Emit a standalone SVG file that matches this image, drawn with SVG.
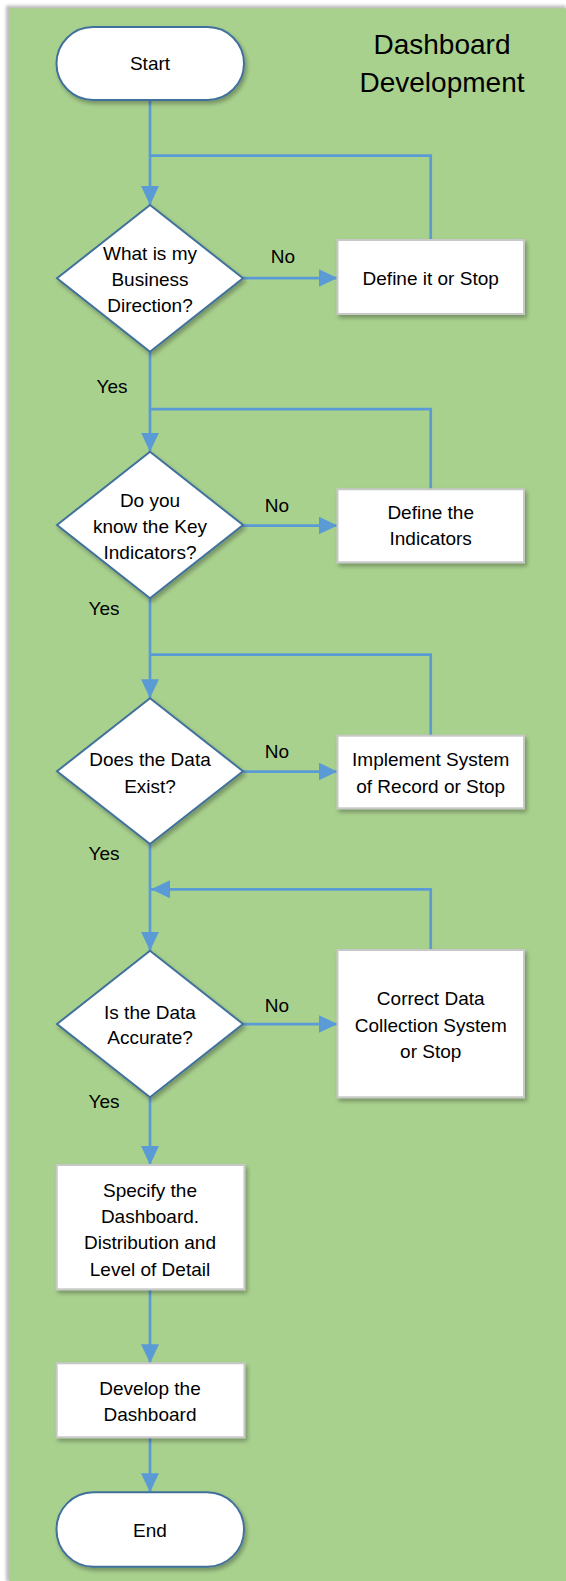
<svg xmlns="http://www.w3.org/2000/svg" width="566" height="1581" viewBox="0 0 566 1581">
<defs>
<style>
.t{font-family:"Liberation Sans",Arial,sans-serif;font-size:19px;fill:#000;text-anchor:middle}
.title{font-family:"Liberation Sans",Arial,sans-serif;font-size:28px;fill:#000;text-anchor:middle}
.term{fill:#fff;stroke:#41719C;stroke-width:2}
.dec{fill:#fff;stroke:#41719C;stroke-width:2}
.box{fill:#fff;stroke:#C8C8C8;stroke-width:2}
.con{fill:none;stroke:#5B9BD5;stroke-width:2.75}
</style>
<marker id="ah" viewBox="0 0 19 18" refX="19" refY="9" markerWidth="19" markerHeight="18" markerUnits="userSpaceOnUse" orient="auto">
<path d="M0,0 L19,9 L0,18 z" fill="#5B9BD5"/>
</marker>
<filter id="sh" x="-20%" y="-20%" width="140%" height="150%">
<feDropShadow dx="2" dy="3" stdDeviation="2" flood-color="#000" flood-opacity="0.3"/>
</filter>
<filter id="bsh" x="-20%" y="-20%" width="140%" height="140%">
<feGaussianBlur stdDeviation="1.5"/>
</filter>
</defs>
<rect x="0" y="0" width="566" height="1581" fill="#fff"/>
<rect x="6" y="5.5" width="560" height="1576" fill="#BDBDBD" filter="url(#bsh)"/>
<rect x="9.5" y="8.3" width="556.5" height="1572.7" fill="#A9D18E"/>

<g id="title">
<text class="title" x="442" y="54">Dashboard</text>
<text class="title" x="442" y="92">Development</text>
</g>

<g id="connectors">
<path class="con" d="M150,100 V205" marker-end="url(#ah)"/>
<path class="con" d="M242,278 H337.5" marker-end="url(#ah)"/>
<path class="con" d="M430.7,240 V155.7 H150"/>
<path class="con" d="M150,351.7 V451.7" marker-end="url(#ah)"/>
<path class="con" d="M242,525.5 H337.5" marker-end="url(#ah)"/>
<path class="con" d="M430.7,489.3 V409 H150"/>
<path class="con" d="M150,598.3 V698.3" marker-end="url(#ah)"/>
<path class="con" d="M242,771.5 H337.5" marker-end="url(#ah)"/>
<path class="con" d="M430.7,735.7 V654.7 H150"/>
<path class="con" d="M150,844 V950.7" marker-end="url(#ah)"/>
<path class="con" d="M242,1024 H337.5" marker-end="url(#ah)"/>
<path class="con" d="M430.7,950 V889.3 H151" marker-end="url(#ah)"/>
<path class="con" d="M150,1097.3 V1165" marker-end="url(#ah)"/>
<path class="con" d="M150,1289.3 V1363.3" marker-end="url(#ah)"/>
<path class="con" d="M150,1437.3 V1492.3" marker-end="url(#ah)"/>
</g>

<g id="labels">
<text class="t" x="283" y="263">No</text>
<text class="t" x="112" y="393">Yes</text>
<text class="t" x="277" y="511.5">No</text>
<text class="t" x="104" y="615">Yes</text>
<text class="t" x="277" y="758">No</text>
<text class="t" x="104" y="860">Yes</text>
<text class="t" x="277" y="1011.5">No</text>
<text class="t" x="104" y="1108">Yes</text>
</g>

<g id="start">
<rect class="term" x="56.5" y="27" width="187.5" height="73" rx="36.5" filter="url(#sh)"/>
<text class="t" x="150" y="70">Start</text>
</g>

<g id="d1">
<polygon class="dec" points="150,205 243,278.3 150,351.7 57,278.3" filter="url(#sh)"/>
<text class="t" x="150" y="260">What is my</text>
<text class="t" x="150" y="286">Business</text>
<text class="t" x="150" y="311.7">Direction?</text>
</g>

<g id="b1">
<rect class="box" x="337.5" y="240" width="186.5" height="74" filter="url(#sh)"/>
<text class="t" x="430.7" y="285">Define it or Stop</text>
</g>

<g id="d2">
<polygon class="dec" points="150,451.7 243,525 150,598.3 57,525" filter="url(#sh)"/>
<text class="t" x="150" y="506.7">Do you</text>
<text class="t" x="150" y="532.7">know the Key</text>
<text class="t" x="150" y="559">Indicators?</text>
</g>

<g id="b2">
<rect class="box" x="337.5" y="489.3" width="186.5" height="73" filter="url(#sh)"/>
<text class="t" x="430.7" y="519.3">Define the</text>
<text class="t" x="430.7" y="545">Indicators</text>
</g>

<g id="d3">
<polygon class="dec" points="150,698.3 243,771.2 150,844 57,771.2" filter="url(#sh)"/>
<text class="t" x="150" y="766">Does the Data</text>
<text class="t" x="150" y="793.3">Exist?</text>
</g>

<g id="b3">
<rect class="box" x="337.5" y="735.7" width="186.5" height="72.6" filter="url(#sh)"/>
<text class="t" x="430.7" y="766">Implement System</text>
<text class="t" x="430.7" y="793.3">of Record or Stop</text>
</g>

<g id="d4">
<polygon class="dec" points="150,950.7 243,1024 150,1097.3 57,1024" filter="url(#sh)"/>
<text class="t" x="150" y="1019.3">Is the Data</text>
<text class="t" x="150" y="1044.3">Accurate?</text>
</g>

<g id="b4">
<rect class="box" x="337.5" y="950" width="186.5" height="147.3" filter="url(#sh)"/>
<text class="t" x="430.7" y="1005">Correct Data</text>
<text class="t" x="430.7" y="1031.7">Collection System</text>
<text class="t" x="430.7" y="1057.7">or Stop</text>
</g>

<g id="b5">
<rect class="box" x="56.7" y="1165" width="187.7" height="124.3" filter="url(#sh)"/>
<text class="t" x="150" y="1196.5">Specify the</text>
<text class="t" x="150" y="1222.7">Dashboard.</text>
<text class="t" x="150" y="1249">Distribution and</text>
<text class="t" x="150" y="1275.7">Level of Detail</text>
</g>

<g id="b6">
<rect class="box" x="56.7" y="1363.3" width="187.7" height="74" filter="url(#sh)"/>
<text class="t" x="150" y="1395">Develop the</text>
<text class="t" x="150" y="1421">Dashboard</text>
</g>

<g id="end">
<rect class="term" x="56.5" y="1492.3" width="187.5" height="74.4" rx="37" filter="url(#sh)"/>
<text class="t" x="150" y="1537.3">End</text>
</g>
</svg>
